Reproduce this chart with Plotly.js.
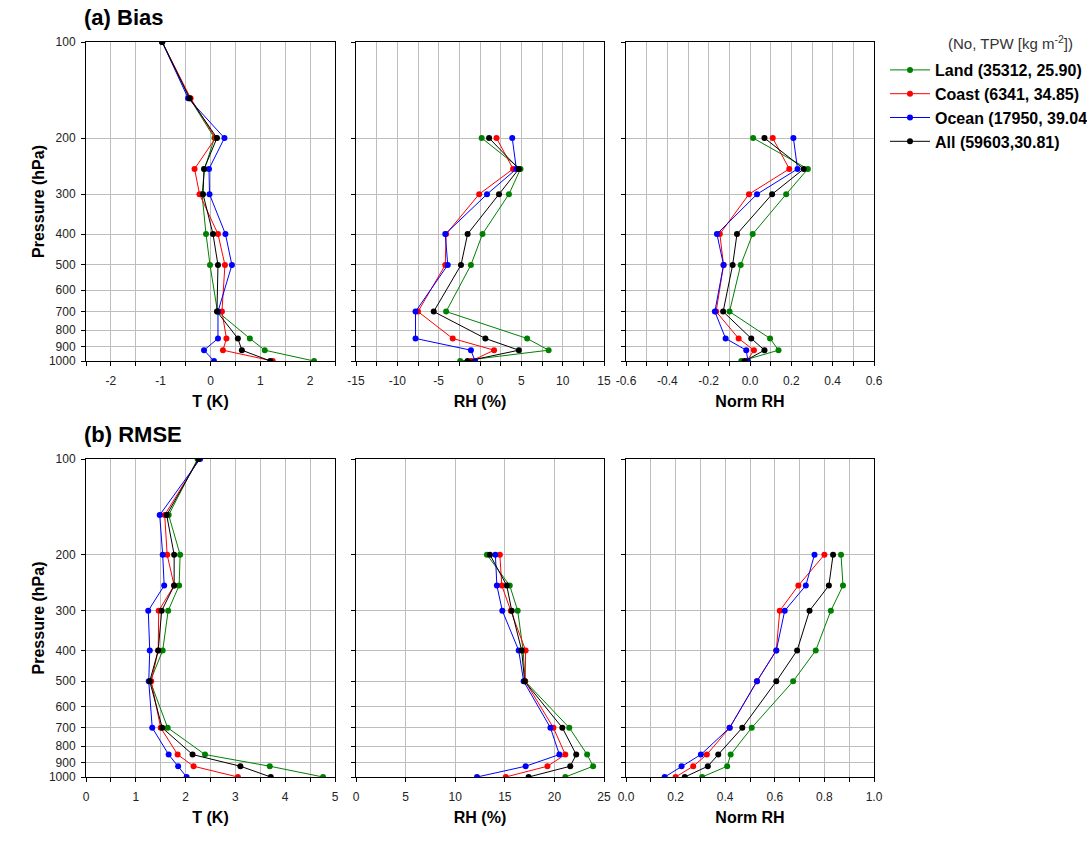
<!DOCTYPE html>
<html><head><meta charset="utf-8">
<script src="https://cdn.plot.ly/plotly-3.0.1.min.js"></script>
<style>html,body{margin:0;padding:0;background:#fff}</style>
</head><body><div id="chart" style="width:1087px;height:854px"></div>
<script>
// Pressure levels (hPa)
const pressureT = [100, 150, 200, 250, 300, 400, 500, 700, 850, 925, 1000];
const pressureRH = [200, 250, 300, 400, 500, 700, 850, 925, 1000];
const yTicks = [100, 200, 300, 400, 500, 600, 700, 800, 900, 1000];

const seriesNames = ['Land (35312, 25.90)', 'Coast (6341, 34.85)', 'Ocean (17950, 39.04)', 'All (59603,30.81)'];
const seriesColors = ['#008000', '#ff0000', '#0000ff', '#000000'];

// x tick labels
const ticksBiasT   = ['-2', '-1', '0', '1', '2'];
const ticksBiasRH  = ['-15', '-10', '-5', '0', '5', '10', '15'];
const ticksBiasNRH = ['-0.6', '-0.4', '-0.2', '0.0', '0.2', '0.4', '0.6'];
const ticksRmseT   = ['0', '1', '2', '3', '4', '5'];
const ticksRmseRH  = ['0', '5', '10', '15', '20', '25'];
const ticksRmseNRH = ['0.0', '0.2', '0.4', '0.6', '0.8', '1.0'];

// (a) Bias - Temperature (K)
const biasT_land  = [-0.97, -0.42, 0.08, -0.12, -0.17, -0.09, -0.01, 0.14, 0.79, 1.09, 2.08];
const biasT_coast = [-0.97, -0.40, 0.10, -0.32, -0.22, 0.15, 0.29, 0.23, 0.32, 0.25, 1.25];
const biasT_ocean = [-0.97, -0.45, 0.28, -0.03, -0.02, 0.30, 0.43, 0.15, 0.15, -0.13, 0.07];
const biasT_all   = [-0.97, -0.42, 0.13, -0.13, -0.15, 0.05, 0.15, 0.13, 0.55, 0.63, 1.20];

// (a) Bias - RH (%)
const biasRH_land  = [0.2, 4.9, 3.5, 0.3, -1.1, -4.1, 5.7, 8.3, -2.4];
const biasRH_coast = [2.0, 4.0, -0.1, -4.1, -4.2, -7.5, -3.3, 1.7, -1.05];
const biasRH_ocean = [3.9, 4.4, 0.85, -4.2, -3.9, -7.8, -7.8, -1.1, -0.6];
const biasRH_all   = [1.1, 4.7, 2.3, -1.5, -2.3, -5.6, 0.65, 4.7, -1.5];

// (a) Bias - Norm RH
const biasNRH_land  = [0.015, 0.28, 0.175, 0.013, -0.045, -0.099, 0.097, 0.138, -0.042];
const biasNRH_coast = [0.11, 0.19, -0.005, -0.146, -0.128, -0.164, -0.055, 0.019, -0.015];
const biasNRH_ocean = [0.21, 0.23, 0.034, -0.16, -0.128, -0.17, -0.118, -0.018, -0.01];
const biasNRH_all   = [0.07, 0.26, 0.107, -0.063, -0.084, -0.13, 0.006, 0.07, -0.026];

// (b) RMSE - Temperature (K)
const rmseT_land  = [2.24, 1.66, 1.89, 1.87, 1.65, 1.54, 1.29, 1.64, 2.39, 3.69, 4.76];
const rmseT_coast = [2.27, 1.58, 1.63, 1.77, 1.46, 1.45, 1.31, 1.50, 1.84, 2.16, 3.05];
const rmseT_ocean = [2.29, 1.48, 1.54, 1.57, 1.25, 1.28, 1.26, 1.33, 1.66, 1.85, 2.02];
const rmseT_all   = [2.26, 1.62, 1.77, 1.77, 1.52, 1.45, 1.28, 1.53, 2.14, 3.10, 3.71];

// (b) RMSE - RH (%)
const rmseRH_land  = [13.2, 15.5, 16.3, 16.85, 17.05, 21.5, 23.3, 23.9, 21.1];
const rmseRH_coast = [14.5, 14.7, 15.6, 17.1, 17.05, 19.9, 21.1, 19.3, 15.1];
const rmseRH_ocean = [14.05, 14.2, 14.75, 16.4, 16.9, 19.6, 20.5, 17.1, 12.2];
const rmseRH_all   = [13.5, 15.2, 15.7, 16.7, 17.0, 20.8, 22.2, 21.6, 17.4];

// (b) RMSE - Norm RH
const rmseNRH_land  = [0.867, 0.875, 0.826, 0.765, 0.674, 0.507, 0.422, 0.408, 0.307];
const rmseNRH_coast = [0.80, 0.695, 0.62, 0.606, 0.528, 0.418, 0.326, 0.271, 0.20];
const rmseNRH_ocean = [0.76, 0.725, 0.64, 0.606, 0.528, 0.418, 0.302, 0.224, 0.156];
const rmseNRH_all   = [0.835, 0.818, 0.74, 0.69, 0.606, 0.469, 0.372, 0.33, 0.237];

const panels = [
  {xa: 'x',  ya: 'y',  p: pressureT,  data: [biasT_land, biasT_coast, biasT_ocean, biasT_all]},
  {xa: 'x2', ya: 'y2', p: pressureRH, data: [biasRH_land, biasRH_coast, biasRH_ocean, biasRH_all]},
  {xa: 'x3', ya: 'y3', p: pressureRH, data: [biasNRH_land, biasNRH_coast, biasNRH_ocean, biasNRH_all]},
  {xa: 'x4', ya: 'y4', p: pressureT,  data: [rmseT_land, rmseT_coast, rmseT_ocean, rmseT_all]},
  {xa: 'x5', ya: 'y5', p: pressureRH, data: [rmseRH_land, rmseRH_coast, rmseRH_ocean, rmseRH_all]},
  {xa: 'x6', ya: 'y6', p: pressureRH, data: [rmseNRH_land, rmseNRH_coast, rmseNRH_ocean, rmseNRH_all]}
];

const traces = [];
panels.forEach((pn, pi) => {
  pn.data.forEach((vals, si) => {
    traces.push({
      type: 'scatter', mode: 'lines+markers',
      x: vals, y: pn.p, xaxis: pn.xa, yaxis: pn.ya,
      name: seriesNames[si], legendgroup: seriesNames[si],
      showlegend: pi === 0,
      line: {color: seriesColors[si], width: 1},
      marker: {color: seriesColors[si], size: 6}
    });
  });
});

const W = 1087, H = 854;
const FONT = 'Liberation Sans, Arial, sans-serif';
const GRID = '#bdbdbd';
const cols = [[86, 335], [356, 604], [626, 874]];
const rows = [[42, 361], [459, 777]];
const dx = c => [c[0] / W, c[1] / W];
const dy = r => [1 - r[1] / H, 1 - r[0] / H];

function xAxis(col, row, range, labels, minor, title, anchor) {
  const vals = labels.map(Number);
  const ax = {
    domain: dx(cols[col]), anchor: anchor, range: range,
    tickmode: 'array', tickvals: vals, ticktext: labels,
    showline: true, mirror: true, linecolor: '#000', linewidth: 1,
    ticks: 'outside', ticklen: 4, tickcolor: '#000', ticklabelstandoff: 5,
    showgrid: true, gridcolor: GRID, gridwidth: 1, zeroline: false,
    tickfont: {family: FONT, size: 12, color: '#222'},
    title: {text: title, font: {family: FONT, size: 16, color: '#000', weight: 'bold'}, standoff: 8}
  };
  if (minor) ax.minor = {tickmode: 'linear', tick0: 0, dtick: minor, ticks: 'outside', ticklen: 4, tickcolor: '#000', showgrid: true, gridcolor: GRID, gridwidth: 1};
  return ax;
}
function yAxis(col, row, labels, anchor) {
  const ax = {
    domain: dy(rows[row]), anchor: anchor, type: 'log', range: [3, 2],
    tickmode: 'array', tickvals: yTicks, ticktext: yTicks.map(String),
    showticklabels: labels,
    showline: true, mirror: true, linecolor: '#000', linewidth: 1,
    ticks: 'outside', ticklen: 4, tickcolor: '#000', ticklabelstandoff: 3,
    showgrid: true, gridcolor: GRID, gridwidth: 1, zeroline: false,
    tickfont: {family: FONT, size: 12, color: '#222'}
  };
  if (labels) ax.title = {text: 'Pressure (hPa)', font: {family: FONT, size: 16, color: '#000', weight: 'bold'}, standoff: 0};
  return ax;
}

const layout = {
  width: W, height: H,
  margin: {l: 0, r: 0, t: 0, b: 0, pad: 0, autoexpand: false},
  paper_bgcolor: '#fff', plot_bgcolor: '#fff',
  font: {family: FONT, color: '#000'},
  showlegend: true,
  legend: {
    x: 885 / W, y: 1 - 53 / H, xanchor: 'left', yanchor: 'top',
    font: {family: FONT, size: 16, color: '#000', weight: 'bold'},
    bgcolor: 'rgba(0,0,0,0)', borderwidth: 0, itemwidth: 40,
    tracegroupgap: 0
  },
  xaxis:  xAxis(0, 0, [-2.5, 2.5], ticksBiasT, 0.5, 'T (K)', 'y'),
  xaxis2: xAxis(1, 0, [-15, 15], ticksBiasRH, 2.5, 'RH (%)', 'y2'),
  xaxis3: xAxis(2, 0, [-0.6, 0.6], ticksBiasNRH, 0.1, 'Norm RH', 'y3'),
  xaxis4: xAxis(0, 1, [0, 5], ticksRmseT, 0.5, 'T (K)', 'y4'),
  xaxis5: xAxis(1, 1, [0, 25], ticksRmseRH, null, 'RH (%)', 'y5'),
  xaxis6: xAxis(2, 1, [0, 1], ticksRmseNRH, 0.1, 'Norm RH', 'y6'),
  yaxis:  yAxis(0, 0, true, 'x'),
  yaxis2: yAxis(1, 0, false, 'x2'),
  yaxis3: yAxis(2, 0, false, 'x3'),
  yaxis4: yAxis(0, 1, true, 'x4'),
  yaxis5: yAxis(1, 1, false, 'x5'),
  yaxis6: yAxis(2, 1, false, 'x6'),
  annotations: [
    {text: '(a) Bias', xref: 'paper', yref: 'paper', x: 82 / W, y: 1 - 17 / H, xanchor: 'left', yanchor: 'middle', showarrow: false,
     font: {family: FONT, size: 22, color: '#000', weight: 'bold'}},
    {text: '(b) RMSE', xref: 'paper', yref: 'paper', x: 82 / W, y: 1 - 434 / H, xanchor: 'left', yanchor: 'middle', showarrow: false,
     font: {family: FONT, size: 22, color: '#000', weight: 'bold'}},
    {text: '(No, TPW [kg m<sup>-2</sup>])', xref: 'paper', yref: 'paper', x: 1010 / W, y: 1 - 42 / H, xanchor: 'center', yanchor: 'middle', showarrow: false,
     font: {family: FONT, size: 15, color: '#333'}}
  ]
};

Plotly.newPlot('chart', traces, layout, {displayModeBar: false, staticPlot: true});
</script></body></html>
